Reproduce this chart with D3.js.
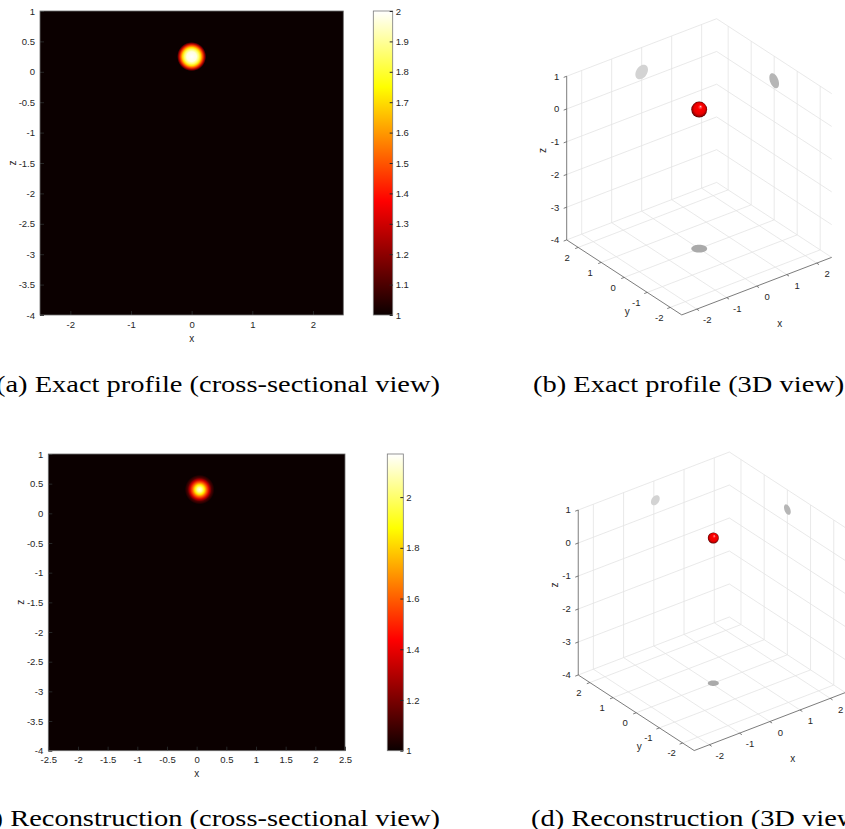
<!DOCTYPE html>
<html>
<head>
<meta charset="utf-8">
<script src="https://cdn.jsdelivr.net/npm/d3@7"></script>
<style>
body { margin: 0; background: #fff; }
svg { display: block; }
text { font-family: "Liberation Sans", Arial, sans-serif; fill: #262626; }
.cap { font-family: "Liberation Serif", "DejaVu Serif", serif; fill: #000; }
</style>
</head>
<body>
<svg id="fig" width="845" height="829"></svg>
<script>
// ---- data ----
var xDomain = [-2.5, 2.5];
var zDomain = [-4, 1];
var xTicksA = [-2, -1, 0, 1, 2];
var xTicksC = [-2.5, -2, -1.5, -1, -0.5, 0, 0.5, 1, 1.5, 2, 2.5];
var zTicks = [1, 0.5, 0, -0.5, -1, -1.5, -2, -2.5, -3, -3.5, -4];

// exact inclusion (cross-section): centre (x,z), radial profile
var exactCentre = [0, 0.25];
var exactRadius = [0, 0.08, 0.12, 0.15, 0.18, 0.21, 0.24];
var exactValue = [2, 1.97, 1.85, 1.7, 1.5, 1.25, 1];
var exactRange = [1, 2];
var exactBarTicks = [1, 1.1, 1.2, 1.3, 1.4, 1.5, 1.6, 1.7, 1.8, 1.9, 2];

// reconstruction (cross-section)
var reconCentre = [0.05, 0.4];
var reconRadius = [0, 0.04, 0.08, 0.12, 0.16, 0.2, 0.25];
var reconValue = [2.15, 2.05, 1.85, 1.6, 1.35, 1.12, 1];
var reconRange = [1, 2.17];
var reconBarTicks = [1, 1.2, 1.4, 1.6, 1.8, 2];

// 3D views: sphere x, y, z, radius
var sphereExact = [0, 0, 0.25, 0.21];
var sphereRecon = [0.05, 0, 0.4, 0.145];
var ticks3d = [-2, -1, 0, 1, 2];
var zTicks3d = [1, 0, -1, -2, -3, -4];

var captions = ["(a) Exact profile (cross-sectional view)", "(b) Exact profile (3D view)",
                "(c) Reconstruction (cross-sectional view)", "(d) Reconstruction (3D view)"];

var svg = d3.select("#fig");
var defs = svg.append("defs");
svg.insert("rect", "defs").attr("width", 845).attr("height", 829).attr("fill", "#fff");

function fmt(d) { return String(d); }

// MATLAB "hot" colormap as a d3 scale
function hotScale(range) {
    var a = range[0], w = range[1] - range[0];
    return d3.scaleLinear()
        .domain([a, a + 0.375 * w, a + 0.75 * w, range[1]])
        .range(["#0b0000", "#ff0000", "#ffff00", "#ffffff"])
        .clamp(true);
}

function heatmap(box, bar, xTicks, range, barTicks, centre, radius, value, id) {
    var x = d3.scaleLinear().domain(xDomain).range([box.x0, box.x1]);
    var z = d3.scaleLinear().domain(zDomain).range([box.y1, box.y0]);
    var hot = hotScale(range);
    var g = svg.append("g");

    g.append("rect")
        .attr("x", box.x0).attr("y", box.y0)
        .attr("width", box.x1 - box.x0).attr("height", box.y1 - box.y0)
        .attr("fill", hot(range[0]));

    var rMax = d3.max(radius);
    var grad = defs.append("radialGradient").attr("id", "blob" + id)
        .attr("gradientUnits", "userSpaceOnUse")
        .attr("cx", x(centre[0])).attr("cy", z(centre[1]))
        .attr("r", x(rMax) - x(0));
    radius.forEach(function (r, i) {
        grad.append("stop").attr("offset", r / rMax).attr("stop-color", hot(value[i]));
    });
    g.append("circle")
        .attr("cx", x(centre[0])).attr("cy", z(centre[1]))
        .attr("r", x(rMax) - x(0))
        .attr("fill", "url(#blob" + id + ")");

    var ax = g.append("g").attr("transform", "translate(0," + box.y1 + ")")
        .call(d3.axisBottom(x).tickValues(xTicks).tickFormat(fmt)
            .tickSizeInner(-4).tickSizeOuter(0).tickPadding(6));
    var az = g.append("g").attr("transform", "translate(" + box.x0 + ",0)")
        .call(d3.axisLeft(z).tickValues(zTicks).tickFormat(fmt)
            .tickSizeInner(-4).tickSizeOuter(0).tickPadding(5));
    [ax, az].forEach(function (a) {
        a.select(".domain").remove();
        a.selectAll("line").attr("stroke", "#262626");
        a.selectAll("text").attr("font-size", 9.5).attr("fill", "#262626")
            .attr("font-family", "Liberation Sans, Arial, sans-serif");
    });

    g.append("rect")
        .attr("x", box.x0).attr("y", box.y0)
        .attr("width", box.x1 - box.x0).attr("height", box.y1 - box.y0)
        .attr("fill", "none").attr("stroke", "#6e6e6e").attr("stroke-width", 0.8);

    g.append("text").attr("x", (box.x0 + box.x1) / 2).attr("y", box.y1 + 23)
        .attr("dy", "0.35em").attr("text-anchor", "middle").attr("font-size", 10).text("x");
    g.append("text")
        .attr("transform", "translate(" + (box.x0 - 28) + "," + (box.y0 + box.y1) / 2 + ") rotate(-90)")
        .attr("dy", "0.35em").attr("text-anchor", "middle").attr("font-size", 10).text("z");

    // colorbar
    var c = d3.scaleLinear().domain(range).range([bar.y1, bar.y0]);
    var lg = defs.append("linearGradient").attr("id", "bar" + id)
        .attr("x1", 0).attr("y1", 1).attr("x2", 0).attr("y2", 0);
    hot.domain().forEach(function (d) {
        lg.append("stop").attr("offset", (d - range[0]) / (range[1] - range[0]))
            .attr("stop-color", hot(d));
    });
    g.append("rect")
        .attr("x", bar.x0).attr("y", bar.y0)
        .attr("width", bar.x1 - bar.x0).attr("height", bar.y1 - bar.y0)
        .attr("fill", "url(#bar" + id + ")")
        .attr("stroke", "#7a7a7a").attr("stroke-width", 0.8);
    var ac = g.append("g").attr("transform", "translate(" + bar.x1 + ",0)")
        .call(d3.axisRight(c).tickValues(barTicks).tickFormat(fmt)
            .tickSizeInner(-3).tickSizeOuter(0).tickPadding(3));
    ac.select(".domain").remove();
    ac.selectAll("line").attr("stroke", "#262626");
    ac.selectAll("text").attr("font-size", 9.5).attr("fill", "#262626")
        .attr("font-family", "Liberation Sans, Arial, sans-serif");
}

heatmap({x0: 40, x1: 343.3, y0: 11, y1: 315}, {x0: 373.3, x1: 392.7, y0: 11, y1: 315},
    xTicksA, exactRange, exactBarTicks, exactCentre, exactRadius, exactValue, "a");
heatmap({x0: 48.3, x1: 345, y0: 454, y1: 750.7}, {x0: 387.3, x1: 403.3, y0: 454, y1: 750.7},
    xTicksC, reconRange, reconBarTicks, reconCentre, reconRadius, reconValue, "c");

// ---- 3D views, MATLAB default view(-37.5, 30), orthographic ----
function projector(o, s) {
    var az = -37.5 * Math.PI / 180, el = 30 * Math.PI / 180;
    var ca = Math.cos(az), sa = Math.sin(az);
    return function (p) {
        return [o[0] + s * (ca * p[0] + sa * p[1]),
                o[1] - s * (Math.sin(el) * (-sa * p[0] + ca * p[1]) + Math.cos(el) * p[2])];
    };
}

function panel3d(o, s, sphere, id) {
    var P = projector(o, s);
    var line = d3.line();
    var g = svg.append("g");
    var lo = xDomain[0], hi = xDomain[1], zb = zDomain[0], zt = zDomain[1];

    var grid = [];
    ticks3d.forEach(function (t) {
        grid.push([[t, hi, zb], [t, hi, zt]]);
        grid.push([[hi, t, zb], [hi, t, zt]]);
        grid.push([[t, lo, zb], [t, hi, zb]]);
        grid.push([[lo, t, zb], [hi, t, zb]]);
    });
    zTicks3d.forEach(function (t) {
        grid.push([[lo, hi, t], [hi, hi, t]]);
        grid.push([[hi, lo, t], [hi, hi, t]]);
    });
    g.selectAll(".grid").data(grid).enter().append("path")
        .attr("d", function (d) { return line(d.map(P)); })
        .attr("stroke", "#e3e3e3").attr("stroke-width", 0.8).attr("fill", "none");

    // projections of the sphere on the three back planes
    var ang = d3.range(0, 360, 8).map(function (a) { return a * Math.PI / 180; });
    var cx = sphere[0], cy = sphere[1], cz = sphere[2], r = sphere[3];
    var shadows = [
        {pts: ang.map(function (a) { return [cx + r * Math.cos(a), hi, cz + r * Math.sin(a)]; }), fill: "#d3d3d3"},
        {pts: ang.map(function (a) { return [hi, cy + r * Math.cos(a), cz + r * Math.sin(a)]; }), fill: "#b6b6b6"},
        {pts: ang.map(function (a) { return [cx + r * Math.cos(a), cy + r * Math.sin(a), zb]; }), fill: "#aaaaaa"}
    ];
    g.selectAll(".shadow").data(shadows).enter().append("path")
        .attr("d", function (d) { return line(d.pts.map(P)) + "Z"; })
        .attr("fill", function (d) { return d.fill; });

    // axis lines
    var axes = [[[lo, hi, zb], [lo, hi, zt]], [[lo, lo, zb], [lo, hi, zb]], [[lo, lo, zb], [hi, lo, zb]]];
    g.selectAll(".axis").data(axes).enter().append("path")
        .attr("d", function (d) { return line(d.map(P)); })
        .attr("stroke", "#5a5a5a").attr("stroke-width", 0.8).attr("fill", "none");

    // ticks
    var tk = [];
    zTicks3d.forEach(function (t) { tk.push([[lo, hi, t], [lo - 0.1, hi, t]]); });
    ticks3d.forEach(function (t) {
        tk.push([[lo, t, zb], [lo - 0.1, t, zb]]);
        tk.push([[t, lo, zb], [t, lo - 0.1, zb]]);
    });
    g.selectAll(".tick3").data(tk).enter().append("path")
        .attr("d", function (d) { return line(d.map(P)); })
        .attr("stroke", "#5a5a5a").attr("stroke-width", 0.8);

    g.selectAll(".zl").data(zTicks3d).enter().append("text")
        .attr("x", function (d) { return P([lo, hi, d])[0] - 7.5; })
        .attr("y", function (d) { return P([lo, hi, d])[1]; })
        .attr("dy", "0.35em").attr("text-anchor", "end").attr("font-size", 9.5).text(fmt);
    g.selectAll(".yl").data(ticks3d).enter().append("text")
        .attr("x", function (d) { return P([lo, d, zb])[0] - 11; })
        .attr("y", function (d) { return P([lo, d, zb])[1] + 10; })
        .attr("dy", "0.35em").attr("text-anchor", "middle").attr("font-size", 9.5).text(fmt);
    g.selectAll(".xl").data(ticks3d).enter().append("text")
        .attr("x", function (d) { return P([d, lo, zb])[0] + 10.5; })
        .attr("y", function (d) { return P([d, lo, zb])[1] + 11; })
        .attr("dy", "0.35em").attr("text-anchor", "middle").attr("font-size", 9.5).text(fmt);

    var pz = P([lo, hi, (zb + zt) / 2]);
    g.append("text").attr("transform", "translate(" + (pz[0] - 24) + "," + (pz[1] - 7.5) + ") rotate(-90)")
        .attr("dy", "0.35em").attr("text-anchor", "middle").attr("font-size", 10).text("z");
    var py = P([lo, 0, zb]);
    g.append("text").attr("x", py[0] + 3).attr("y", py[1] + 34)
        .attr("dy", "0.35em").attr("text-anchor", "middle").attr("font-size", 10).text("y");
    var px = P([0, lo, zb]);
    g.append("text").attr("x", px[0] + 23).attr("y", px[1] + 37)
        .attr("dy", "0.35em").attr("text-anchor", "middle").attr("font-size", 10).text("x");

    // the sphere itself, lit from the upper right
    var rg = defs.append("radialGradient").attr("id", "ball" + id)
        .attr("cx", 0.5).attr("cy", 0.5).attr("r", 0.5).attr("fx", 0.6).attr("fy", 0.3);
    [[0, "#ffe0e0"], [0.12, "#ff5050"], [0.3, "#ff0000"], [0.7, "#ea0000"], [0.9, "#a00000"], [1, "#4a0000"]]
        .forEach(function (st) { rg.append("stop").attr("offset", st[0]).attr("stop-color", st[1]); });
    var pc = P([cx, cy, cz]);
    g.append("circle").attr("cx", pc[0]).attr("cy", pc[1]).attr("r", r * s)
        .attr("fill", "url(#ball" + id + ")");
}

panel3d([699.2, 117.7], 37.8, sphereExact, "b");
panel3d([711.8, 551.8], 38.1, sphereRecon, "d");

// ---- captions (serif, scaled to the widths in the figure; the figure crops them at the edges) ----
var capPos = [[440, 392, "end"], [533, 392, "start"], [440, 826, "end"], [531, 826, "start"]];
var capNodes = svg.selectAll(".cap").data(captions).enter().append("text")
    .attr("class", "cap").attr("font-size", 24).text(function (d) { return d; });
var natural = capNodes.nodes().map(function (n) { return n.getComputedTextLength(); });
var k = 444 / natural[0];
capNodes.each(function (d, i) {
    var w = natural[i] * k;
    var x0 = capPos[i][2] === "end" ? capPos[i][0] - w : capPos[i][0];
    d3.select(this).attr("x", x0).attr("y", capPos[i][1])
        .attr("textLength", w).attr("lengthAdjust", "spacingAndGlyphs");
});
</script>
</body>
</html>
